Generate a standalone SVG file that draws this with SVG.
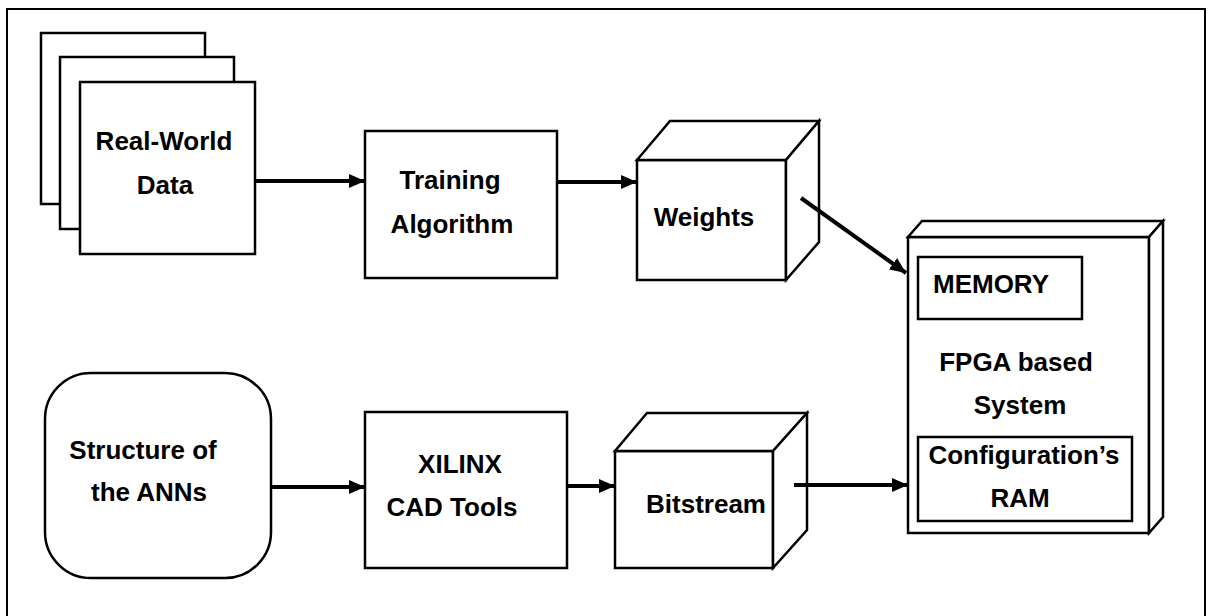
<svg xmlns="http://www.w3.org/2000/svg" width="1209" height="616" viewBox="0 0 1209 616">
<defs>
<marker id="ah" markerUnits="userSpaceOnUse" markerWidth="18" markerHeight="16" refX="16" refY="8" orient="auto">
<path d="M0,1 L16,8 L0,15 Z" fill="#000"/>
</marker>
<style>
.s{fill:#fff;stroke:#000;stroke-width:2.5;stroke-linejoin:miter}
.t{font-family:"Liberation Sans",Arial,sans-serif;font-weight:bold;font-size:26px;fill:#000;text-anchor:middle}
.c{stroke:#000;stroke-width:4;fill:none;marker-end:url(#ah)}
</style>
</defs>
<rect width="1209" height="616" fill="#fff"/>
<path d="M7,616 V9 H1205 V616" fill="none" stroke="#000" stroke-width="2"/>

<g id="data">
<rect class="s" x="41" y="33" width="164" height="171"/>
<rect class="s" x="60" y="57" width="174" height="172"/>
<rect class="s" x="80" y="82" width="175" height="172"/>
<text class="t" x="164" y="150">Real-World</text>
<text class="t" x="165" y="194">Data</text>
</g>

<g id="training">
<rect class="s" x="365" y="131" width="192" height="147"/>
<text class="t" x="450" y="189">Training</text>
<text class="t" x="452" y="233">Algorithm</text>
</g>

<g id="weights">
<rect class="s" x="637" y="160" width="149" height="120"/>
<polygon class="s" points="637,160 670,121 819,121 786,160"/>
<polygon class="s" points="786,160 819,121 819,242 786,280"/>
<text class="t" x="704" y="226">Weights</text>
</g>

<g id="fpga">
<rect class="s" x="908" y="237" width="241" height="296"/>
<polygon class="s" points="908,237 922,221 1163,221 1149,237"/>
<polygon class="s" points="1149,237 1163,221 1163,517 1149,533"/>
<rect class="s" x="918" y="257" width="164" height="62"/>
<text class="t" x="991" y="293">MEMORY</text>
<text class="t" x="1016" y="371">FPGA based</text>
<text class="t" x="1020" y="414">System</text>
<rect class="s" x="918" y="437" width="214" height="84"/>
<text class="t" x="1024" y="464">Configuration’s</text>
<text class="t" x="1020" y="507">RAM</text>
</g>

<g id="structure">
<rect class="s" x="45" y="373" width="226" height="205" rx="46" ry="46"/>
<text class="t" x="143" y="459">Structure of</text>
<text class="t" x="149" y="501">the ANNs</text>
</g>

<g id="xilinx">
<rect class="s" x="365" y="412" width="202" height="156"/>
<text class="t" x="460" y="473">XILINX</text>
<text class="t" x="452" y="516">CAD Tools</text>
</g>

<g id="bitstream">
<rect class="s" x="615" y="451" width="158" height="117"/>
<polygon class="s" points="615,451 647,413 807,413 773,451"/>
<polygon class="s" points="773,451 807,413 807,530 773,568"/>
<text class="t" x="706" y="513">Bitstream</text>
</g>

<g id="connectors">
<line class="c" x1="255" y1="181" x2="365" y2="181"/>
<line class="c" x1="557" y1="182" x2="637" y2="182"/>
<line class="c" x1="801" y1="198" x2="906" y2="273"/>
<line class="c" x1="271" y1="487" x2="365" y2="487"/>
<line class="c" x1="567" y1="486" x2="615" y2="486"/>
<line class="c" x1="794" y1="485" x2="908" y2="485"/>
</g>
</svg>
